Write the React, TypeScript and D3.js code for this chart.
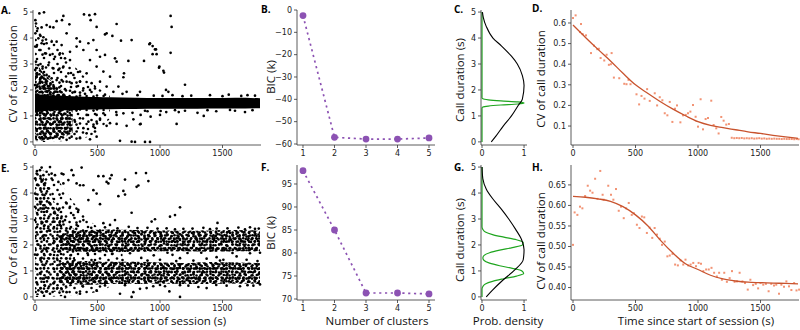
import React from "react";
import * as d3 from "d3";

// ---------------- DATA ----------------
const timeTicks = [0, 500, 1000, 1500];
const durTicks = [0, 1, 2, 3, 4, 5];
const clusters = [1, 2, 3, 4, 5];
const bicTop = [-2.5, -57.0, -57.8, -57.8, -57.3];
const bicBottom = [97.9, 85.0, 71.3, 71.3, 71.1];
const bicTopTicks = [0, -10, -20, -30, -40, -50, -60];
const bicBottomTicks = [70, 75, 80, 85, 90, 95];
const densTicks = [0, 1];
const cvTopTicks = [0.1, 0.2, 0.3, 0.4, 0.5, 0.6];
const cvBottomTicks = [0.4, 0.45, 0.5, 0.55, 0.6, 0.65];

// Panel A: dense core band (solid) and clouds near session start
const aBandX = [0, 50, 100, 200, 300, 400, 500, 600, 800, 1000, 1200, 1400, 1600, 1800];
const aBandLo = [1.12, 1.18, 1.2, 1.22, 1.22, 1.24, 1.25, 1.26, 1.27, 1.28, 1.28, 1.29, 1.29, 1.3];
const aBandHi = [1.88, 1.82, 1.8, 1.78, 1.76, 1.74, 1.73, 1.72, 1.7, 1.69, 1.69, 1.69, 1.7, 1.68];
const aCloudX = [0, 100, 200, 300, 400, 500, 600];
const aCloudLo = [0, 0, 0.02, 0.05, 0.15, 0.4, 0.9];
const aCloudHi = [4.5, 4.1, 3.6, 3.0, 2.5, 2.1, 1.8];
const aCoreX = [0, 60, 120, 180, 240, 300];
const aCoreLo = [0.05, 0.05, 0.1, 0.15, 0.2, 0.35];
const aCoreHi = [3.1, 2.7, 2.4, 2.1, 1.9, 1.5];
const aScatter: [number, number][] = [
  [72, 4.99], [227, 4.85], [216, 4.69], [173, 4.65], [275, 4.53], [392, 4.91], [435, 4.88], [480, 4.92], [445, 4.69],
  [573, 4.18], [493, 4.43], [653, 4.54], [560, 4.14], [619, 4.08], [688, 3.9], [773, 3.92], [560, 3.35], [640, 3.22],
  [653, 3.09], [747, 3.12], [712, 2.64], [707, 2.49], [872, 3.12], [920, 3.8], [941, 3.69], [960, 3.56], [973, 3.38],
  [995, 2.9], [1027, 2.74], [1048, 2.0], [1067, 1.93], [1085, 4.85], [1093, 4.43], [1085, 3.43], [1200, 2.2], [1133, 0.69],
  [253, 4.18], [333, 3.99], [360, 3.86], [387, 3.54], [333, 3.67], [280, 3.47], [427, 3.8], [467, 3.92], [493, 3.54],
  [520, 3.28], [440, 3.15], [493, 2.9], [547, 2.71], [600, 2.51], [413, 2.64], [360, 2.71], [360, 2.32], [453, 2.26],
  [520, 2.32], [667, 2.13], [573, 2.13], [120, 4.43], [147, 4.41], [53, 4.41], [21, 4.37], [3, 4.18], [40, 4.12],
  [67, 4.03], [53, 3.8], [93, 3.8], [133, 3.86], [173, 3.86], [213, 3.73], [13, 3.67], [35, 3.54], [80, 3.41],
  [120, 3.35], [160, 3.28], [200, 3.41], [240, 3.22], [280, 3.15], [8, 3.09], [27, 2.96], [61, 2.9], [107, 2.96],
  [147, 2.83], [187, 2.77], [227, 2.9], [267, 2.64], [307, 2.58], [13, 2.58], [53, 2.51], [93, 2.58], [133, 2.45],
  [173, 2.38], [213, 2.38], [253, 2.32], [293, 2.26], [333, 2.13], [387, 2.06], [440, 2.0], [480, 2.06], [0, 2.19],
  [35, 2.13], [72, 2.1], [115, 2.15], [155, 2.06], [195, 2.1], [240, 2.03], [280, 1.97], [320, 1.93], [360, 1.9],
  [19, 1.97], [61, 1.9], [99, 1.93], [147, 1.87], [627, 1.93], [733, 1.93], [840, 1.93], [3, 4.69], [8, 4.56],
  [35, 4.95], [93, 4.5], [2, 3.67], [27, 3.99], [2, 2.77], [40, 2.32],
  [800, 0.0], [773, 0.01], [680, 0.04], [880, 0.0], [493, 0.2], [480, 0.4], [467, 0.59], [493, 0.78], [493, 1.04],
  [520, 0.85], [573, 0.62], [600, 0.72], [653, 0.69], [733, 0.62], [840, 0.68], [787, 0.87], [413, 1.04], [360, 0.91],
  [320, 0.78], [280, 0.65], [240, 0.53], [200, 0.4], [160, 0.2], [253, 0.08], [293, 0.2], [360, 0.14], [413, 0.33],
  [440, 0.1], [387, 0.53], [333, 0.4], [427, 0.78], [547, 1.1], [653, 1.04], [707, 1.1], [925, 0.97], [1000, 1.04],
  [915, 3.76], [968, 3.56], [941, 3.38], [992, 2.86], [1032, 2.67], [1005, 1.19], [845, 1.04], [845, 0.69], [920, 0.0],
  [560, 1.82], [700, 1.85], [820, 1.8], [950, 1.78], [1100, 1.8], [1250, 1.78], [1400, 1.8], [1550, 1.82], [1700, 1.8],
  [1760, 1.78], [650, 1.15], [780, 1.12], [900, 1.18], [1050, 1.15], [1200, 1.2], [1300, 1.12], [1450, 1.18],
  [1600, 1.2], [1680, 1.15], [1350, 1.0], [1150, 1.15], [400, 1.85], [300, 1.9], [1500, 1.76], [1650, 1.77],
  [1180, 1.76], [1020, 1.77], [880, 1.2], [1120, 1.22], [1380, 1.22], [1560, 1.23], [1740, 1.22],
];

// Panel C: densities [duration, density]
const cMixture: [number, number][] = [
  [0, 0.22], [0.22, 0.33], [0.6, 0.5], [1.0, 0.7], [1.4, 0.86], [1.65, 0.96], [2.17, 1.0], [2.55, 0.96],
  [3.0, 0.84], [3.3, 0.7], [3.7, 0.46], [4.0, 0.26], [4.45, 0.1], [4.8, 0.03], [5.0, 0.01],
];
const cComponent: [number, number][] = [
  [0, 0], [1.3, 0], [1.34, 0.02], [1.38, 0.15], [1.42, 0.45], [1.46, 0.85], [1.5, 1.0], [1.54, 0.85],
  [1.58, 0.45], [1.62, 0.15], [1.66, 0.02], [1.7, 0], [5.0, 0],
];

// Panel D
const dPoints: [number, number][] = [
  [0, 0.624], [21, 0.637], [64, 0.595], [56, 0.556], [77, 0.546], [104, 0.54], [144, 0.454], [168, 0.49], [194, 0.473],
  [207, 0.475], [221, 0.43], [250, 0.418], [269, 0.446], [287, 0.397], [303, 0.4], [309, 0.454], [327, 0.335],
  [370, 0.332], [410, 0.305], [428, 0.303], [444, 0.324], [460, 0.303], [508, 0.254], [529, 0.205], [548, 0.246],
  [572, 0.233], [593, 0.279], [614, 0.222], [654, 0.259], [673, 0.2], [694, 0.24], [715, 0.225], [734, 0.162],
  [755, 0.152], [774, 0.217], [795, 0.12], [816, 0.184], [832, 0.2], [859, 0.118], [880, 0.152], [902, 0.154],
  [920, 0.162], [939, 0.17], [960, 0.202], [981, 0.145], [1000, 0.097], [1021, 0.23], [1040, 0.084], [1061, 0.134],
  [1080, 0.139], [1106, 0.223], [1125, 0.105], [1146, 0.089], [1165, 0.064], [1186, 0.144], [1205, 0.126],
  [1226, 0.107], [1247, 0.11], [1270, 0.043], [1290, 0.041], [1310, 0.042], [1330, 0.041], [1350, 0.042],
  [1370, 0.04], [1390, 0.041], [1410, 0.04], [1430, 0.041], [1450, 0.039], [1470, 0.04], [1490, 0.041], [1510, 0.039],
  [1530, 0.04], [1550, 0.038], [1570, 0.039], [1590, 0.038], [1610, 0.039], [1630, 0.038], [1650, 0.038],
  [1670, 0.037], [1690, 0.038], [1710, 0.037], [1730, 0.037], [1750, 0.037], [1770, 0.036], [1790, 0.037], [1805, 0.036],
];
const dFitX = [0, 100, 200, 300, 400, 500, 600, 700, 800, 900, 1000, 1100, 1200, 1300, 1400, 1500, 1600, 1700, 1800];
const dFitY = [0.59, 0.53, 0.472, 0.416, 0.356, 0.3, 0.258, 0.218, 0.182, 0.15, 0.121, 0.103, 0.092, 0.082, 0.072, 0.064, 0.055, 0.047, 0.04];

// Panel E
const eCloudX = [0, 100, 200, 300, 400, 500, 600, 700];
const eCloudLo = [0, 0, 0.02, 0.05, 0.1, 0.2, 0.4, 1.3];
const eCloudHi = [4.95, 4.8, 4.4, 3.7, 3.1, 2.7, 2.3, 1.8];
const eCoreX = [0, 80, 160, 240, 320];
const eCoreLo = [0.05, 0.1, 0.2, 0.3, 0.5];
const eCoreHi = [4.9, 4.5, 3.6, 2.9, 2.6];
const eBandX = [200, 300, 400, 600, 800, 1000, 1200, 1400, 1600, 1800];
const eUpperLo = [1.85, 1.78, 1.74, 1.72, 1.74, 1.76, 1.76, 1.74, 1.76, 1.76];
const eUpperHi = [2.4, 2.52, 2.58, 2.6, 2.58, 2.56, 2.55, 2.56, 2.58, 2.55];
const eLowerLo = [0.55, 0.5, 0.47, 0.5, 0.5, 0.52, 0.5, 0.5, 0.52, 0.5];
const eLowerHi = [1.3, 1.36, 1.38, 1.35, 1.35, 1.32, 1.3, 1.34, 1.32, 1.3];
const eScatter: [number, number][] = [
  [53, 4.98], [133, 4.75], [227, 4.72], [293, 4.88], [373, 4.98], [507, 4.65], [613, 4.69], [573, 4.43], [720, 4.52],
  [808, 4.77], [888, 4.77], [907, 4.46], [813, 4.24], [707, 4.08], [667, 3.88], [493, 3.98], [427, 3.73], [520, 3.57],
  [773, 3.24], [960, 2.99], [640, 2.96], [547, 2.84], [1160, 3.45], [1120, 3.15], [1080, 3.09], [933, 2.9], [1460, 2.85],
  [1160, 0.0], [240, 0.0], [773, 0.0], [1053, 2.64], [1187, 2.62], [1347, 2.66], [1453, 2.63], [1627, 2.67],
  [1720, 2.68], [1760, 2.62], [900, 2.66], [750, 2.7], [1000, 1.43], [1160, 1.49], [1373, 1.47], [1507, 1.43],
  [1613, 1.56], [1693, 1.43], [1267, 1.4], [1453, 1.53], [850, 1.5], [950, 1.6], [1100, 1.62], [893, 0.34],
  [946, 0.41], [1040, 0.41], [1075, 0.21], [1227, 0.43], [1307, 0.38], [1373, 0.34], [1533, 0.43], [1640, 0.41],
  [1747, 0.43], [13, 4.75], [40, 4.88], [67, 4.69], [0, 4.56], [53, 4.5], [93, 4.82], [27, 4.3], [80, 4.37],
  [120, 5.0], [160, 4.69], [213, 4.75], [133, 4.56], [187, 4.43], [107, 4.18], [227, 4.37], [267, 4.5], [307, 4.69],
  [360, 4.3], [333, 4.37], [387, 4.3], [547, 4.65], [600, 4.56], [587, 4.37], [467, 4.11], [827, 4.29], [720, 3.94],
  [0, 3.98], [13, 3.79], [40, 3.66], [0, 3.47], [27, 3.35], [67, 3.53], [93, 3.28], [120, 3.6], [160, 3.22],
  [187, 3.35], [213, 3.09], [253, 3.6], [280, 3.47], [307, 3.15], [347, 3.35], [0, 2.96], [53, 2.83], [107, 2.71],
  [147, 2.9], [200, 2.77], [240, 2.96], [333, 2.77], [387, 2.96], [600, 2.77], [13, 2.49], [67, 2.36], [120, 2.55],
  [173, 2.23], [27, 2.01], [93, 1.88], [147, 2.07], [0, 1.63], [53, 1.5], [120, 1.63], [187, 1.75], [40, 0.92],
  [107, 0.75], [13, 0.56], [80, 0.43], [147, 0.52], [213, 0.3], [27, 0.25], [120, 0.12], [253, 0.18], [360, 0.12],
  [493, 0.25], [680, 0.12], [787, 0.18], [840, 0.31],
  [330, 2.62], [450, 2.66], [560, 2.68], [660, 2.64], [820, 2.65], [980, 2.63], [1120, 2.6], [1260, 2.63],
  [1400, 2.61], [1540, 2.64], [1680, 2.6], [1790, 2.63], [420, 1.68], [620, 1.66], [760, 1.68], [1060, 1.7],
  [1220, 1.69], [1330, 1.7], [1580, 1.69], [1720, 1.68], [1800, 1.7], [480, 1.42], [700, 1.42], [900, 1.4],
  [1130, 1.38], [1480, 1.4], [1780, 1.38], [380, 0.42], [560, 0.44], [720, 0.45], [1000, 0.46], [1160, 0.45],
  [1450, 0.46], [1700, 0.45], [1800, 0.48],
];

// Panel G
const gMixture: [number, number][] = [
  [0, 0.1], [0.26, 0.25], [0.65, 0.5], [1.04, 0.78], [1.43, 0.98], [1.82, 1.0], [2.21, 0.94], [2.6, 0.8],
  [2.99, 0.64], [3.38, 0.46], [3.77, 0.26], [4.16, 0.1], [4.55, 0.02], [5.0, 0.0],
];
const gComponents: [number, number][] = [
  [0, 0], [0.3, 0], [0.4, 0.02], [0.5, 0.08], [0.6, 0.25], [0.7, 0.52], [0.8, 0.82], [0.9, 0.99], [1.0, 0.95],
  [1.1, 0.72], [1.2, 0.42], [1.3, 0.18], [1.4, 0.05], [1.5, 0.02], [1.6, 0.05], [1.7, 0.18], [1.8, 0.42],
  [1.9, 0.72], [2.0, 0.96], [2.1, 0.98], [2.2, 0.82], [2.3, 0.52], [2.4, 0.25], [2.5, 0.08], [2.6, 0.02], [2.7, 0], [5.0, 0],
];

// Panel H
const hPoints: [number, number][] = [
  [0, 0.504], [13, 0.583], [35, 0.577], [56, 0.597], [75, 0.593], [97, 0.623], [118, 0.648], [137, 0.636], [156, 0.631],
  [177, 0.665], [196, 0.616], [218, 0.684], [237, 0.626], [245, 0.614], [282, 0.648], [304, 0.626], [323, 0.614],
  [344, 0.64], [366, 0.587], [384, 0.597], [406, 0.569], [425, 0.593], [446, 0.606], [470, 0.577], [487, 0.581],
  [511, 0.553], [532, 0.545], [551, 0.573], [570, 0.571], [591, 0.533], [613, 0.546], [634, 0.521], [653, 0.545],
  [672, 0.529], [694, 0.519], [712, 0.504], [734, 0.512], [755, 0.476], [774, 0.478], [796, 0.482], [817, 0.456],
  [839, 0.454], [860, 0.466], [882, 0.456], [900, 0.468], [922, 0.454], [941, 0.456], [962, 0.46], [984, 0.452],
  [1005, 0.46], [1024, 0.458], [1043, 0.44], [1065, 0.444], [1086, 0.444], [1108, 0.448], [1129, 0.436], [1151, 0.427],
  [1169, 0.436], [1191, 0.419], [1210, 0.436], [1231, 0.414], [1253, 0.423], [1272, 0.44], [1293, 0.414], [1312, 0.415],
  [1333, 0.436], [1355, 0.415], [1376, 0.411], [1398, 0.395], [1419, 0.419], [1441, 0.406], [1462, 0.409], [1481, 0.398],
  [1500, 0.411], [1522, 0.407], [1543, 0.409], [1565, 0.391], [1586, 0.409], [1608, 0.405], [1626, 0.407], [1648, 0.385],
  [1667, 0.407], [1688, 0.402], [1707, 0.415], [1728, 0.403], [1747, 0.394], [1769, 0.411], [1788, 0.393], [1809, 0.395],
];
const hFitX = [0, 100, 200, 300, 400, 500, 600, 700, 800, 900, 1000, 1100, 1200, 1300, 1400, 1500, 1600, 1700, 1800];
const hFitY = [0.622, 0.62, 0.616, 0.61, 0.597, 0.577, 0.55, 0.515, 0.484, 0.458, 0.444, 0.43, 0.421, 0.416, 0.413, 0.412, 0.411, 0.41, 0.409];

// ---------------- STYLE ----------------
const LABEL_FONT = "'Open Sans', 'DejaVu Sans', sans-serif";
const TICK_FONT = "'DejaVu Sans', sans-serif";
const AXIS = "#333";
const PURPLE = "#8c52b3";
const ORANGE_PT = "#f0805c";
const ORANGE_LN = "#c8532e";
const GREEN = "#1fa51f";

// Texture tiles (fill style only): incommensurate dot tiles layered to imitate overplotted points
const TEX: { id: string; w: number; h: number; dots: [number, number][] }[] = [
  { id: "t1", w: 11, h: 9, dots: [[1.5, 1.5], [6.5, 2.2], [9.5, 5.5], [3.8, 5], [1.6, 7.6], [7, 7.6]] },
  { id: "t2", w: 13, h: 10, dots: [[2.5, 1.8], [8, 1.4], [11.5, 4.5], [5.5, 5.2], [1.5, 8.4], [9.2, 8.2], [5, 8.6]] },
  { id: "t3", w: 17, h: 14, dots: [[3, 3], [10, 2], [15, 6.5], [6.5, 8], [1.6, 12], [12, 11.5], [8.5, 12.6]] },
  { id: "t4", w: 19, h: 15, dots: [[4, 2], [12, 3.5], [17, 1.8], [2, 8], [8.5, 9], [15.5, 10], [5.5, 13.4], [12, 13.5]] },
];

type Lin = d3.ScaleLinear<number, number>;

function Axes({ x, y, xTicks, yTicks, xFmt, yFmt }: { x: Lin; y: Lin; xTicks: number[]; yTicks: number[]; xFmt?: (v: number) => string; yFmt?: (v: number) => string }) {
  const [x0, x1] = x.range();
  const [yb, yt] = y.range();
  const fx = xFmt || ((v: number) => String(v));
  const fy = yFmt || ((v: number) => String(v));
  return (
    <g>
      <line x1={x0} x2={x0} y1={yb} y2={yt} stroke={AXIS} strokeWidth={0.8} />
      <line x1={x0} x2={x1} y1={yb} y2={yb} stroke={AXIS} strokeWidth={0.8} />
      {xTicks.map((t) => (
        <g key={"x" + t}>
          <line x1={x(t)} x2={x(t)} y1={yb} y2={yb + 3} stroke={AXIS} strokeWidth={0.8} />
          <text x={x(t)} y={yb + 10.5} textAnchor="middle" fontSize={8} fontFamily={TICK_FONT} fill="#222">{fx(t)}</text>
        </g>
      ))}
      {yTicks.map((t) => (
        <g key={"y" + t}>
          <line x1={x0 - 3} x2={x0} y1={y(t)} y2={y(t)} stroke={AXIS} strokeWidth={0.8} />
          <text x={x0 - 5} y={y(t)} dy="0.34em" textAnchor="end" fontSize={8} fontFamily={TICK_FONT} fill="#222">{fy(t)}</text>
        </g>
      ))}
    </g>
  );
}

function VLabel({ x, y, text }: { x: number; y: number; text: string }) {
  return (
    <text transform={`translate(${x},${y}) rotate(-90)`} textAnchor="middle" dy="0.35em" fontSize={11.5} fontFamily={LABEL_FONT} fill="#111">{text}</text>
  );
}
function HLabel({ x, y, text }: { x: number; y: number; text: string }) {
  return <text x={x} y={y} textAnchor="middle" fontSize={11.5} fontFamily={LABEL_FONT} fill="#111">{text}</text>;
}
function Letter({ x, y, text }: { x: number; y: number; text: string }) {
  return <text x={x} y={y} fontSize={10} fontWeight="bold" fontFamily={LABEL_FONT} fill="#000">{text}</text>;
}

function bandPath(xs: number[], lo: number[], hi: number[], sx: Lin, sy: Lin) {
  const pts = xs.map((v, i) => ({ x: v, lo: lo[i], hi: hi[i] }));
  return d3.area<{ x: number; lo: number; hi: number }>()
    .x((d) => sx(d.x)).y0((d) => sy(d.lo)).y1((d) => sy(d.hi))
    .curve(d3.curveMonotoneX)(pts) || "";
}

const ROWS = [
  { top: 10, bottom: 145 },
  { top: 165, bottom: 300 },
];

// layers: [xs, lo, hi, fills[]]
function ScatterPanel({ row, layers, points }: any) {
  const { top, bottom } = ROWS[row];
  const x = d3.scaleLinear().domain([-16, 1808]).range([33, 261]);
  const y = d3.scaleLinear().domain([-0.12, 5.08]).range([bottom, top]);
  return (
    <g>
      {layers.map((L: any, i: number) => {
        const d = bandPath(L[0], L[1], L[2], x, y);
        return L[3].map((f: string, j: number) => <path key={i + "-" + j} d={d} fill={f} />);
      })}
      {points.map((p: [number, number], i: number) => (
        <circle key={i} cx={x(p[0])} cy={y(p[1])} r={1.35} fill="#000" />
      ))}
      <Axes x={x} y={y} xTicks={timeTicks} yTicks={durTicks} />
    </g>
  );
}

function BicPanel({ row, values, domain, ticks, fmt }: any) {
  const { top, bottom } = ROWS[row];
  const x = d3.scaleLinear().domain([0.81, 5.19]).range([297, 435]);
  const y = d3.scaleLinear().domain(domain).range([bottom, top]);
  const line = d3.line<number>().x((_, i) => x(clusters[i])).y((d) => y(d));
  return (
    <g>
      <path d={line(values) || ""} fill="none" stroke={PURPLE} strokeWidth={1.7} strokeDasharray="2.2,3.6" />
      {values.map((v: number, i: number) => (
        <circle key={i} cx={x(clusters[i])} cy={y(v)} r={3.4} fill={PURPLE} />
      ))}
      <Axes x={x} y={y} xTicks={clusters} yTicks={ticks} yFmt={fmt} />
    </g>
  );
}

function DensityPanel({ row, mixture, comps }: any) {
  const { top, bottom } = ROWS[row];
  const x = d3.scaleLinear().domain([-0.024, 1.07]).range([481, 527]);
  const y = d3.scaleLinear().domain([-0.12, 5.08]).range([bottom, top]);
  const line = d3.line<[number, number]>().x((d) => x(d[1])).y((d) => y(d[0])).curve(d3.curveMonotoneY);
  return (
    <g>
      <path d={line(comps) || ""} fill="none" stroke={GREEN} strokeWidth={1.2} />
      <path d={line(mixture) || ""} fill="none" stroke="#000" strokeWidth={1.1} />
      <Axes x={x} y={y} xTicks={densTicks} yTicks={durTicks} />
    </g>
  );
}

function CvPanel({ row, points, fitX, fitY, domain, ticks, fmt }: any) {
  const { top, bottom } = ROWS[row];
  const x = d3.scaleLinear().domain([-16, 1808]).range([571, 799]);
  const y = d3.scaleLinear().domain(domain).range([bottom, top]);
  const line = d3.line<number>().x((_, i) => x(fitX[i])).y((d) => y(d)).curve(d3.curveMonotoneX);
  return (
    <g>
      {points.map((p: [number, number], i: number) => (
        <rect key={i} x={x(p[0]) - 1} y={y(p[1]) - 1} width={2} height={2} fill={ORANGE_PT} opacity={0.85} />
      ))}
      <path d={line(fitY) || ""} fill="none" stroke={ORANGE_LN} strokeWidth={1.3} />
      <Axes x={x} y={y} xTicks={timeTicks} yTicks={ticks} yFmt={fmt} />
    </g>
  );
}

const minusFmt = (v: number) => (v < 0 ? "\u2212" + Math.abs(v) : String(v));
const T1 = "url(#t1)";
const T2 = "url(#t2)";
const T3 = "url(#t3)";
const T4 = "url(#t4)";

export default function App() {
  return (
    <div style={{ position: "absolute", left: 0, top: 0, width: 800, height: 330, background: "#fff" }}>
      <svg width={800} height={330} viewBox="0 0 800 330">
        <defs>
          {TEX.map((t) => (
            <pattern key={t.id} id={t.id} width={t.w} height={t.h} patternUnits="userSpaceOnUse">
              {t.dots.map((p, i) => (
                <circle key={i} cx={p[0]} cy={p[1]} r={1.3} fill="#000" />
              ))}
            </pattern>
          ))}
        </defs>

        {/* Row 1 */}
        <ScatterPanel row={0} points={aScatter} layers={[
          [aCloudX, aCloudLo, aCloudHi, [T3]],
          [aCoreX, aCoreLo, aCoreHi, [T1, T2, T4]],
          [aBandX, aBandLo, aBandHi, ["#000"]],
        ]} />
        <BicPanel row={0} values={bicTop} domain={[-60.45, 0]} ticks={bicTopTicks} fmt={minusFmt} />
        <DensityPanel row={0} mixture={cMixture} comps={cComponent} />
        <CvPanel row={0} points={dPoints} fitX={dFitX} fitY={dFitY} domain={[0.008, 0.663]} ticks={cvTopTicks}
          fmt={(v: number) => v.toFixed(1)} />

        {/* Row 2 */}
        <ScatterPanel row={1} points={eScatter} layers={[
          [eCloudX, eCloudLo, eCloudHi, [T3]],
          [eCoreX, eCoreLo, eCoreHi, [T2]],
          [eBandX, eUpperLo, eUpperHi, [T1, T2, T3, T4]],
          [eBandX, eLowerLo, eLowerHi, [T1, T2, T3, T4]],
        ]} />
        <BicPanel row={1} values={bicBottom} domain={[69.78, 99.13]} ticks={bicBottomTicks} fmt={(v: number) => String(v)} />
        <DensityPanel row={1} mixture={gMixture} comps={gComponents} />
        <CvPanel row={1} points={hPoints} fitX={hFitX} fitY={hFitY} domain={[0.3697, 0.6985]} ticks={cvBottomTicks}
          fmt={(v: number) => v.toFixed(2)} />

        {/* Labels */}
        <VLabel x={13} y={74} text="CV of call duration" />
        <VLabel x={13} y={236} text="CV of call duration" />
        <VLabel x={271} y={77} text="BIC (k)" />
        <VLabel x={271} y={233} text="BIC (k)" />
        <VLabel x={460} y={80} text="Call duration (s)" />
        <VLabel x={460} y={240} text="Call duration (s)" />
        <VLabel x={541} y={79} text="CV of call duration" />
        <VLabel x={541} y={241} text="CV of call duration" />
        <HLabel x={148} y={325} text="Time since start of session (s)" />
        <HLabel x={377} y={325} text="Number of clusters" />
        <HLabel x={508} y={325} text="Prob. density" />
        <HLabel x={696} y={325} text="Time since start of session (s)" />

        <Letter x={1} y={14} text="A." />
        <Letter x={261} y={13} text="B." />
        <Letter x={454} y={13} text="C." />
        <Letter x={532} y={12} text="D." />
        <Letter x={1} y={172} text="E." />
        <Letter x={261} y={171} text="F." />
        <Letter x={454} y={171} text="G." />
        <Letter x={532} y={171} text="H." />
      </svg>
    </div>
  );
}
